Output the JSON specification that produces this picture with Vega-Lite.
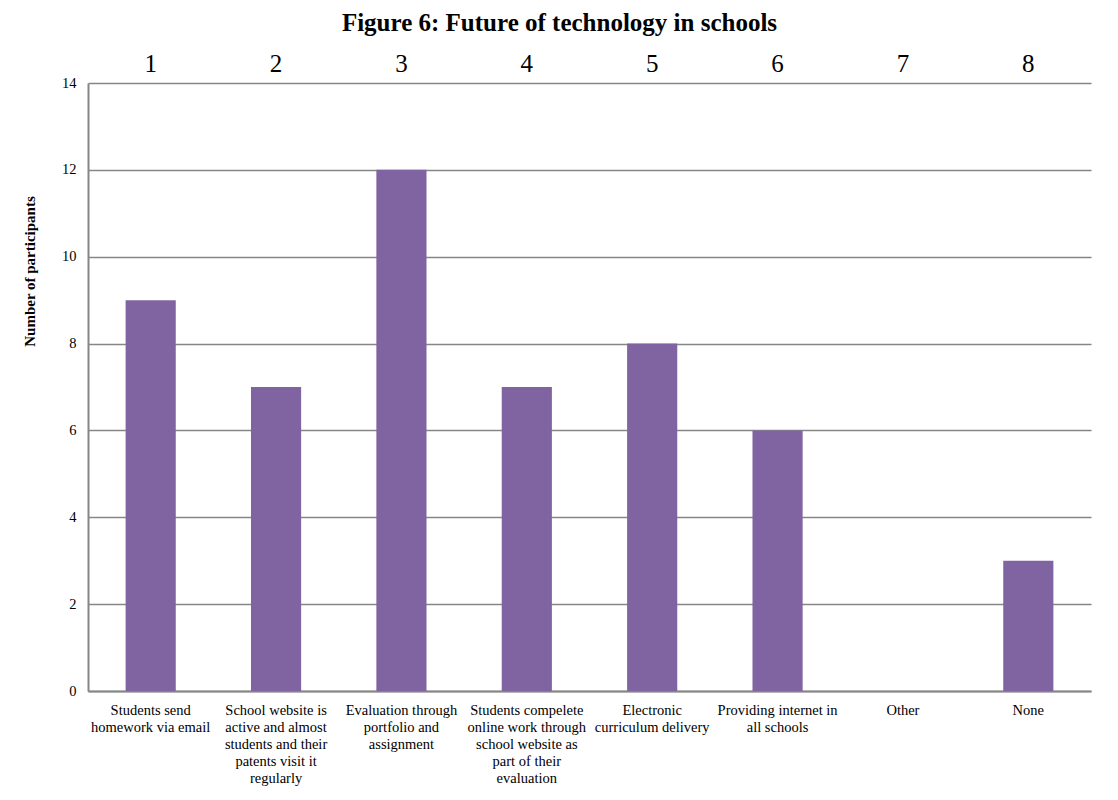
{
  "$schema": "https://vega.github.io/schema/vega-lite/v6.json",
  "autosize": {"type": "none"},
  "width": 1003,
  "height": 608,
  "padding": {"left": 88, "top": 83, "right": 27, "bottom": 109},
  "background": "white",
  "title": {
    "text": "Figure 6: Future of technology in schools",
    "font": "Liberation Serif",
    "fontSize": 25,
    "fontWeight": "bold",
    "color": "#000000",
    "anchor": "middle",
    "dx": -30,
    "offset": 15
  },
  "data": {
    "values": [
      {"num": 1, "cat": "Students send|homework via email", "count": 9},
      {"num": 2, "cat": "School website is|active and almost|students and their|patents visit it|regularly", "count": 7},
      {"num": 3, "cat": "Evaluation through|portfolio and|assignment", "count": 12},
      {"num": 4, "cat": "Students compelete|online work through|school website as|part of their|evaluation", "count": 7},
      {"num": 5, "cat": "Electronic|curriculum delivery", "count": 8},
      {"num": 6, "cat": "Providing internet in|all schools", "count": 6},
      {"num": 7, "cat": "Other", "count": 0},
      {"num": 8, "cat": "None", "count": 3}
    ]
  },
  "layer": [
    {
      "mark": {"type": "bar", "color": "#8064A2"},
      "encoding": {
        "x": {
          "field": "cat",
          "type": "nominal",
          "sort": {"field": "num"},
          "scale": {"paddingInner": 0.6, "paddingOuter": 0.3},
          "axis": {
            "orient": "bottom",
            "title": null,
            "labelAngle": 0,
            "labelExpr": "split(datum.label, '|')",
            "labelFont": "Liberation Serif",
            "labelFontSize": 14.5,
            "labelLineHeight": 17,
            "labelColor": "#000000",
            "labelPadding": 12,
            "labelBaseline": "top",
            "ticks": false,
            "domainColor": "#868686",
            "domainWidth": 2,
            "labelLimit": 0
          }
        },
        "y": {
          "field": "count",
          "type": "quantitative",
          "scale": {"domain": [0, 14]},
          "axis": {
            "values": [0, 2, 4, 6, 8, 10, 12, 14],
            "title": "Number of participants",
            "titleFont": "Liberation Serif",
            "titleFontSize": 15,
            "titleFontWeight": "bold",
            "titleColor": "#000000",
            "titleY": 188,
            "titleX": -51,
            "labelFont": "Liberation Serif",
            "labelFontSize": 14.5,
            "labelColor": "#000000",
            "labelPadding": 12,
            "ticks": false,
            "domainColor": "#868686",
            "domainWidth": 2,
            "grid": true,
            "gridColor": "#868686",
            "gridWidth": 1.5
          }
        }
      }
    },
    {
      "mark": {"type": "bar", "opacity": 0},
      "encoding": {
        "x": {
          "field": "num",
          "type": "ordinal",
          "scale": {"paddingInner": 0.6, "paddingOuter": 0.3},
          "axis": {
            "orient": "top",
            "title": null,
            "labelAngle": 0,
            "labelFont": "Liberation Serif",
            "labelFontSize": 25,
            "labelColor": "#000000",
            "labelPadding": 7,
            "ticks": false,
            "domain": false
          }
        },
        "y": {"field": "count", "type": "quantitative"}
      }
    }
  ],
  "resolve": {"scale": {"x": "independent"}},
  "config": {
    "view": {"stroke": null}
  }
}
